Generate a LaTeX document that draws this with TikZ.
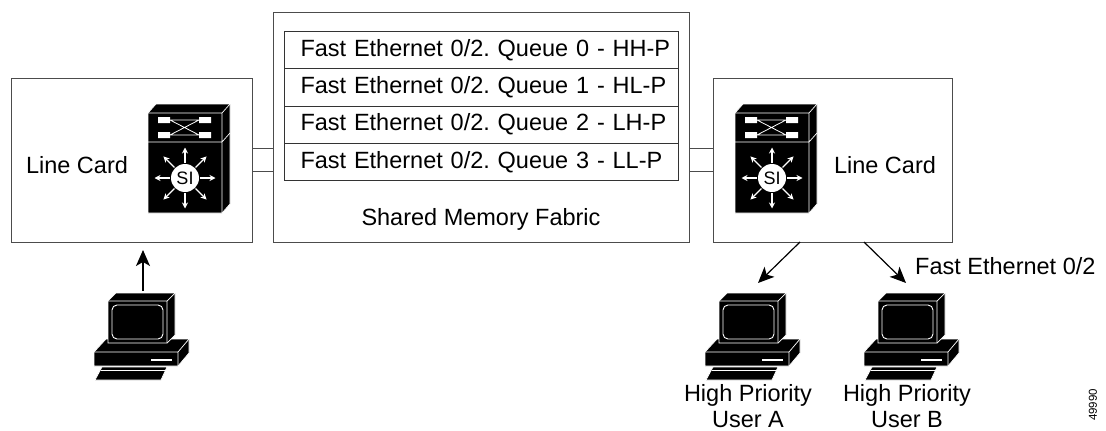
\documentclass[tikz,border=0pt]{standalone}
\usepackage{fontspec}
\setmainfont{Liberation Sans}
\usetikzlibrary{arrows.meta}
\frenchspacing
\begin{document}
\begin{tikzpicture}[x=1pt,y=-1pt,
  every node/.style={font=\fontsize{23.5}{25.5}\selectfont, inner sep=0pt},
  card/.style={draw=black!70, line width=1pt, anchor=north west},
  qrow/.style={draw=black!80, line width=1pt, anchor=north west,
    text width=378pt, inner xsep=8pt, align=left, minimum height=37.25pt,
    execute at begin node={\hspace*{8pt}}},
  link/.style={draw=black!70, line width=1pt},
  conn/.style={line width=1.2pt, -{Stealth[length=16pt,width=14pt,inset=4pt]}},
  edge/.style={white, line width=0.7pt},
  switch/.pic={
    % chassis: front, top and side faces
    \fill[black,draw=white,line width=0.7pt] (0,0) -- (8,-9) -- (82,-9) -- (82,91) -- (74,100) -- (0,100) -- cycle;
    \draw[edge] (0,0) -- (74,0) -- (82,-9) (74,0) -- (74,100) (0,29) -- (74,29) -- (82,20);
    % crossbar module
    \fill[white] (10,4) rectangle (22,10) (10,19) rectangle (22,25)
                 (51,4) rectangle (63,10) (51,19) rectangle (63,25);
    \draw[white,line width=0.8pt] (22,7) -- (51,7) (22,22) -- (51,22)
                 (22,7) -- (51,22) (22,22) -- (51,7);
    % layer-3 switching emblem
    \fill[white] (37,65) circle[radius=14];
    \node (si) [font=\fontsize{18}{18}\selectfont] at (37,65) {SI};
    \foreach \a in {0,45,...,315}
      \draw[white,line width=1.1pt,-{Stealth[length=6pt,width=6pt]}] (37,65) ++(\a:15) -- ++(\a:15.5);
  },
  pc/.pic={
    % system unit
    \fill[black,draw=white,line width=0.7pt] (-14,51) -- (-2,38) -- (81,38) -- (81,52) -- (70,65) -- (-14,65) -- cycle;
    \draw[edge] (-14,51) -- (70,51) -- (81,38) (70,51) -- (70,65);
    \draw[white,line width=1.3pt] (43,59) -- (64,59);
    % monitor
    \fill[black,draw=white,line width=0.7pt] (0,0) -- (8,-8) -- (67,-8) -- (67,34) -- (59,42) -- (0,42) -- cycle;
    \draw[edge] (0,0) -- (59,0) -- (67,-8) (59,0) -- (59,42);
    \draw[white,line width=0.9pt,rounded corners=5pt] (4,4) rectangle (55,38);
    % keyboard
    \fill[black,draw=white,line width=0.7pt] (-6,66) -- (59,66) -- (53,79) -- (-13,79) -- cycle;
    \draw[edge] (-7.5,69) -- (57.5,69);
  }]
\useasboundingbox (0,0) rectangle (1106,431);

% line cards and switching fabric
\node (leftcard) [card, minimum width=241pt, minimum height=164pt] at (11,78) {};
\node (fabric) [card, minimum width=416pt, minimum height=230pt] at (273,12) {};
\node (rightcard) [card, minimum width=239pt, minimum height=164pt] at (713,78) {};

% per-port queues in shared memory
\node (q0) [qrow] at (284,31) {Fast Ethernet 0/2. Queue 0 - HH-P};
\node (q1) [qrow] at (284,68.25) {Fast Ethernet 0/2. Queue 1 - HL-P};
\node (q2) [qrow] at (284,105.5) {Fast Ethernet 0/2. Queue 2 - LH-P};
\node (q3) [qrow] at (284,142.75) {Fast Ethernet 0/2. Queue 3 - LL-P};
\node (fablabel) at (481,219) {Shared Memory Fabric};

% card-to-fabric links
\coordinate (busA) at (0,148);
\coordinate (busB) at (0,171);
\draw[link] (leftcard.east |- busA) -- (fabric.west |- busA)
            (leftcard.east |- busB) -- (fabric.west |- busB);
\draw[link] (fabric.east |- busA) -- (rightcard.west |- busA)
            (fabric.east |- busB) -- (rightcard.west |- busB);

% line card contents
\node (lclabel) at (77,165) {Line Card};
\node (rclabel) at (885,165) {Line Card};
\pic (swL) at (148,113) {switch};
\pic (swR) at (735,113) {switch};

% hosts
\pic (pcL) at (108,301) {pc};
\pic (pcA) at (719,301) {pc};
\pic (pcB) at (878,301) {pc};

\coordinate (pcLtop) at (143,291);
\coordinate (lcin) at (143,250);
\coordinate (srcA) at (800,242);
\coordinate (srcB) at (864,242);
\coordinate (pcAin) at (758,283);
\coordinate (pcBin) at (906,283);
\draw[conn] (pcLtop) -- (lcin);
\draw[conn] (srcA) -- (pcAin);
\draw[conn] (srcB) -- (pcBin);

\node (port) [anchor=west] at (915,266) {Fast Ethernet 0/2};
\node (userA) [align=center] at (748,406) {High Priority\\User A};
\node (userB) [align=center] at (907,406) {High Priority\\User B};
\node (figno) [rotate=90, font=\fontsize{11.5}{12}\selectfont] at (1093,405) {49990};
\end{tikzpicture}
\end{document}
